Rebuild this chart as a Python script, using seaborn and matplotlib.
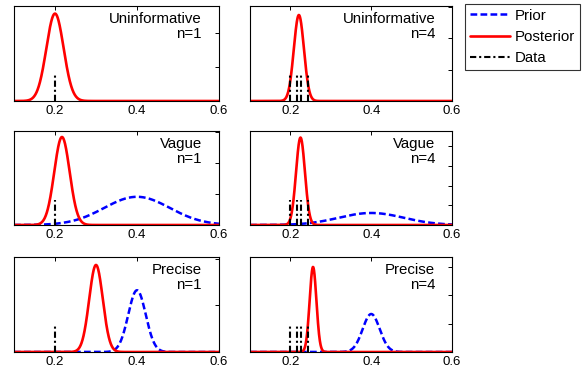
import numpy as np
import pandas as pd
import matplotlib
matplotlib.use("Agg")
import matplotlib.pyplot as plt
import seaborn as sns
from matplotlib.lines import Line2D

# ---- data ----
prior_names = ["Uninformative", "Uninformative", "Vague", "Vague", "Precise", "Precise"]
n_obs = [1, 4, 1, 4, 1, 4]
data_n1 = [0.20]
data_n4 = [0.20, 0.217, 0.225, 0.244]
post_mean = [0.200, 0.221, 0.217, 0.225, 0.300, 0.256]
post_sd = [0.021, 0.0125, 0.0187, 0.011, 0.0166, 0.0084]
post_peak = [0.92, 0.905, 0.936, 0.93, 0.916, 0.895]
prior_mean = [0.4, 0.4, 0.4, 0.4, 0.4, 0.4]
prior_sd = [0.08, 0.08, 0.08, 0.08, 0.0213, 0.021]
prior_peak = [0.0, 0.0, 0.30, 0.128, 0.65, 0.40]
data_height = 0.27
ytick_step = [0.36, 0.33, 0.33, 0.21, 0.49, 0.30]
xticks = [0.2, 0.4, 0.6]

sns.set_style("white")
plt.rcParams['font.family'] = ['Liberation Sans', 'DejaVu Sans']
plt.rcParams['text.color'] = 'black'

W, H = 585, 375
fig = plt.figure(figsize=(W / 100, H / 100), dpi=100)

cols = [(14, 205), (250, 202)]
rows = [(6, 95), (131, 94), (257, 95)]

grid = np.linspace(0.1, 0.6, 1201)

for i in range(6):
    r, c = divmod(i, 2)
    x0, w = cols[c]
    y0, h = rows[r]
    ax = fig.add_axes([x0 / W, 1 - (y0 + h) / H, w / W, h / H])

    prior_y = prior_peak[i] * np.exp(-0.5 * ((grid - prior_mean[i]) / prior_sd[i]) ** 2)
    post_y = post_peak[i] * np.exp(-0.5 * ((grid - post_mean[i]) / post_sd[i]) ** 2)
    df = pd.DataFrame({"x": grid, "prior": prior_y, "post": post_y})

    if prior_peak[i] > 0:
        sns.lineplot(data=df, x="x", y="prior", ax=ax, color="#0000ff", lw=1.8,
                     dashes=False, linestyle=(0, (2.7, 1.3)))
    sns.lineplot(data=df, x="x", y="post", ax=ax, color="#ff0000", lw=1.9)
    dvals = data_n1 if n_obs[i] == 1 else data_n4
    for d in dvals:
        ax.plot([d, d], [0, data_height], color="black", lw=1.5,
                linestyle=(0, (3, 1.4, 1, 1.4)))

    ax.set_xlim(0.1, 0.6)
    ax.set_ylim(0, 1)
    ax.set_xticks(xticks)
    ax.set_xticklabels([f"{t:.1f}" for t in xticks])
    yt = np.arange(0, 1.0, ytick_step[i])
    ax.set_yticks(yt)
    ax.set_yticklabels([])
    ax.set_xlabel("")
    ax.set_ylabel("")
    ax.tick_params(direction="in", length=3, width=0.7, top=True, right=True,
                   labelsize=9.5, pad=3, colors="black")
    for s in ax.spines.values():
        s.set_visible(True)
        s.set_color("black")
        s.set_linewidth(0.8)
    ax.text(0.917, 0.935, f"{prior_names[i]}\nn={n_obs[i]}", transform=ax.transAxes,
            ha="right", va="top", fontsize=10.8, linespacing=1.05,
            multialignment="right", color="black")

handles = [
    Line2D([], [], color="#0000ff", lw=1.8, linestyle=(0, (2.7, 1.3))),
    Line2D([], [], color="#ff0000", lw=1.9),
    Line2D([], [], color="black", lw=1.5, linestyle=(0, (3, 1.4, 1, 1.4))),
]
leg = fig.legend(handles, ["Prior", "Posterior", "Data"], loc="upper left",
                 bbox_to_anchor=(465 / W, 1 - 4 / H), fontsize=10.8, frameon=True,
                 fancybox=False, edgecolor="black", handlelength=2.7,
                 handletextpad=0.35, labelspacing=0.5, borderpad=0.3,
                 borderaxespad=0)
leg.get_frame().set_linewidth(0.8)
for t in leg.get_texts():
    t.set_color("black")

fig.savefig("out.png", dpi=100)
